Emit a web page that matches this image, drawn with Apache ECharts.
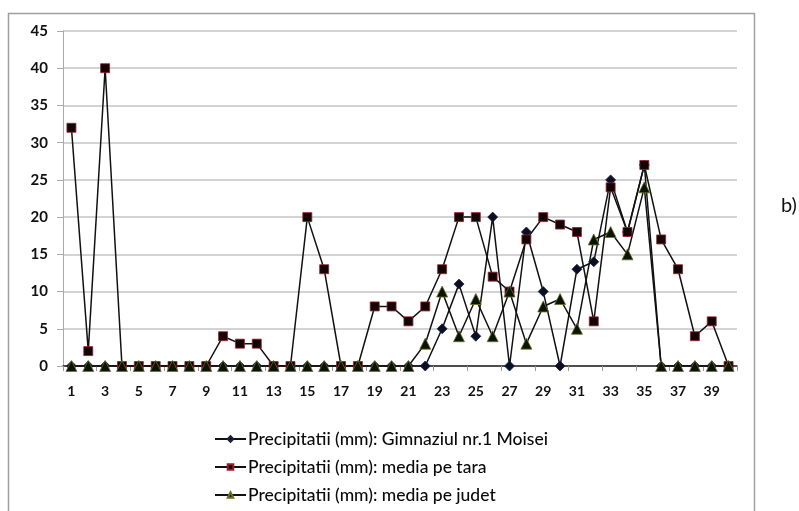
<!DOCTYPE html>
<html>
<head>
<meta charset="utf-8">
<script src="https://cdn.jsdelivr.net/npm/echarts@6/dist/echarts.min.js"></script>
<style>html,body{margin:0;padding:0;background:#fff}#c{width:799px;height:511px}</style>
</head>
<body>
<div id="c"></div>
<script>
const categories = Array.from({length: 40}, (_, i) => String(i + 1));
const gimnaziul = [0,0,0,0,0,0,0,0,0,0,0,0,0,0,0,0,0,0,0,0,0,0,5,11,4,20,0,18,10,0,13,14,25,18,27,0,0,0,0,0];
const mediaTara = [32,2,40,0,0,0,0,0,0,4,3,3,0,0,20,13,0,0,8,8,6,8,13,20,20,12,10,17,20,19,18,6,24,18,27,17,13,4,6,0];
const mediaJudet = [0,0,0,0,0,0,0,0,0,0,0,0,0,0,0,0,0,0,0,0,0,3,10,4,9,4,10,3,8,9,5,17,18,15,24,0,0,0,0,0];
const seriesNames = ['Precipitatii (mm): Gimnaziul nr.1 Moisei','Precipitatii (mm): media pe tara','Precipitatii (mm): media pe judet'];

const font = 'Lato, "Open Sans", sans-serif';
const chart = echarts.init(document.getElementById('c'), null, {renderer: 'canvas'});
chart.setOption({
  animation: false,
  backgroundColor: '#fff',
  grid: {left: 63, right: 62, top: 31, bottom: 145, containLabel: false},
  graphic: [
    {type: 'rect', shape: {x: 8.5, y: 13.5, width: 746, height: 520}, style: {fill: 'none', stroke: '#a0a0a0', lineWidth: 1.5}, z: -1},
    {type: 'text', left: 781, top: 196, style: {text: 'b)', font: '20px ' + font, fill: '#111'}}
  ],
  legend: {
    orient: 'vertical', left: 209, top: 425, itemGap: 10, itemWidth: 31, itemHeight: 7,
    textStyle: {fontFamily: font, fontSize: 17.5, fontWeight: 500, color: '#0a0a0a', padding: [0,0,0,-3]},
    data: seriesNames
  },
  xAxis: {
    type: 'category', data: categories, boundaryGap: true,
    axisLine: {lineStyle: {color: '#222', width: 1.5}},
    axisTick: {show: true, length: 5, lineStyle: {color: '#999'}},
    axisLabel: {interval: 1, fontFamily: font, fontWeight: 'bold', fontSize: 14, color: '#111', margin: 18}
  },
  yAxis: {
    type: 'value', min: 0, max: 45, interval: 5,
    axisLine: {show: true, lineStyle: {color: '#aaa'}},
    axisTick: {show: true, length: 6, lineStyle: {color: '#aaa'}},
    axisLabel: {fontFamily: font, fontWeight: 'bold', fontSize: 15, color: '#111', margin: 15},
    splitLine: {lineStyle: {color: '#c4c4c4', width: 1.5}}
  },
  series: [
    {name: seriesNames[0], type: 'line', data: gimnaziul, symbol: 'diamond', symbolSize: 10,
     lineStyle: {color: '#111', width: 1.5}, itemStyle: {color: '#0a0f22', borderColor: '#1a2040', borderWidth: 0.8}},
    {name: seriesNames[1], type: 'line', data: mediaTara, symbol: 'rect', symbolSize: 9,
     lineStyle: {color: '#111', width: 1.5}, itemStyle: {color: '#120406', borderColor: '#9a2028', borderWidth: 0.8}},
    {name: seriesNames[2], type: 'line', data: mediaJudet, symbol: 'triangle', symbolSize: 11,
     lineStyle: {color: '#111', width: 1.5}, itemStyle: {color: '#081404', borderColor: '#6e6e22', borderWidth: 0.8}}
  ]
});
</script>
</body>
</html>
